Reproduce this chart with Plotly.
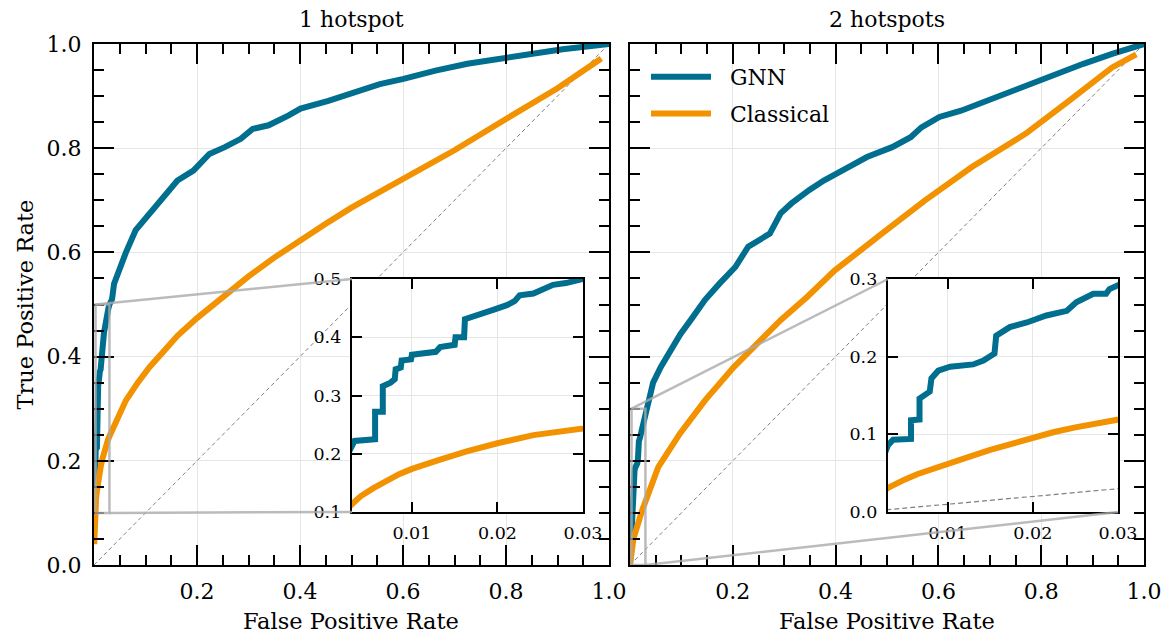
import plotly.graph_objects as go

# ---------------- data ----------------
# 1 hotspot
gnn1_fpr = [0.0, 0.0005, 0.0015, 0.003, 0.0033, 0.0057, 0.0057, 0.0066, 0.0066, 0.0075,
            0.0080, 0.0081, 0.0087, 0.0088, 0.0099, 0.0100, 0.0115, 0.0128, 0.0133, 0.0150,
            0.0151, 0.0161, 0.0162, 0.0179, 0.0195, 0.0211, 0.0220, 0.0226, 0.0242, 0.0265,
            0.0280, 0.0300, 0.035, 0.039, 0.050, 0.062, 0.081, 0.108, 0.131, 0.162,
            0.193, 0.224, 0.254, 0.285, 0.308, 0.339, 0.378, 0.401, 0.455, 0.509,
            0.555, 0.601, 0.663, 0.725, 0.786, 0.840, 0.910, 1.0]
gnn1_tpr = [0.06, 0.12, 0.17, 0.215, 0.222, 0.225, 0.272, 0.272, 0.316, 0.322,
            0.328, 0.345, 0.348, 0.360, 0.362, 0.370, 0.372, 0.375, 0.383, 0.387,
            0.400, 0.400, 0.431, 0.438, 0.447, 0.455, 0.462, 0.472, 0.475, 0.490,
            0.493, 0.500, 0.51, 0.54, 0.573, 0.600, 0.643, 0.675, 0.700, 0.738,
            0.757, 0.789, 0.802, 0.818, 0.837, 0.844, 0.863, 0.876, 0.891, 0.907,
            0.923, 0.933, 0.949, 0.962, 0.971, 0.981, 0.990, 1.0]
cls1_fpr = [0.0005, 0.001, 0.002, 0.003, 0.004, 0.0055, 0.0071, 0.0085, 0.010, 0.0115,
            0.0133, 0.0164, 0.018, 0.020, 0.0242, 0.027, 0.030, 0.045, 0.062, 0.085,
            0.108, 0.135, 0.162, 0.200, 0.258, 0.300, 0.350, 0.400, 0.450, 0.500,
            0.550, 0.600, 0.650, 0.700, 0.800, 0.900, 0.985]
cls1_tpr = [0.04, 0.07, 0.10, 0.115, 0.127, 0.141, 0.155, 0.165, 0.174, 0.182,
            0.190, 0.204, 0.211, 0.218, 0.232, 0.240, 0.247, 0.28, 0.316, 0.35,
            0.38, 0.41, 0.440, 0.474, 0.522, 0.554, 0.590, 0.624, 0.655, 0.686,
            0.713, 0.740, 0.768, 0.796, 0.856, 0.915, 0.972]

# 2 hotspots
gnn2_fpr = [0.0, 0.001, 0.002, 0.003, 0.0036, 0.0057, 0.0057, 0.0067, 0.0067, 0.0079,
            0.0081, 0.0089, 0.0103, 0.0130, 0.0142, 0.0155, 0.0157, 0.0173, 0.0193, 0.0216,
            0.0240, 0.0251, 0.0271, 0.0286, 0.0290, 0.0300, 0.045, 0.060, 0.078, 0.098,
            0.118, 0.146, 0.174, 0.205, 0.230, 0.272, 0.293, 0.314, 0.349, 0.377,
            0.426, 0.461, 0.510, 0.546, 0.567, 0.602, 0.644, 0.686, 0.728, 0.770,
            0.826, 0.882, 0.938, 1.0]
gnn2_tpr = [0.0, 0.03, 0.06, 0.086, 0.093, 0.094, 0.118, 0.119, 0.146, 0.155,
            0.172, 0.182, 0.187, 0.190, 0.195, 0.204, 0.227, 0.238, 0.244, 0.253,
            0.259, 0.270, 0.281, 0.281, 0.287, 0.292, 0.350, 0.380, 0.410, 0.443,
            0.470, 0.509, 0.540, 0.572, 0.611, 0.636, 0.675, 0.694, 0.720, 0.738,
            0.764, 0.783, 0.802, 0.821, 0.840, 0.860, 0.872, 0.888, 0.904, 0.920,
            0.943, 0.962, 0.981, 1.0]
cls2_fpr = [0.0, 0.001, 0.002, 0.003, 0.004, 0.005, 0.0065, 0.008, 0.010, 0.0125,
            0.015, 0.0175, 0.020, 0.0225, 0.025, 0.0275, 0.030, 0.055, 0.097, 0.146,
            0.202, 0.265, 0.293, 0.345, 0.398, 0.490, 0.574, 0.665, 0.770, 0.854,
            0.938, 0.985]
cls2_tpr = [0.0, 0.012, 0.023, 0.031, 0.037, 0.042, 0.049, 0.055, 0.0625, 0.071,
            0.080, 0.088, 0.096, 0.103, 0.109, 0.115, 0.121, 0.188, 0.252, 0.316,
            0.380, 0.443, 0.470, 0.515, 0.565, 0.636, 0.700, 0.764, 0.828, 0.891,
            0.955, 0.980]

diag = [0.0, 1.0]
panel_titles = ["1 hotspot", "2 hotspots"]
series_names = ["GNN", "Classical"]
main_ticks = [0.0, 0.2, 0.4, 0.6, 0.8, 1.0]
inset_xrange = [0.003, 0.03]
inset_xticks = [0.01, 0.02, 0.03]
inset1_yrange = [0.1, 0.5]
inset1_yticks = [0.1, 0.2, 0.3, 0.4, 0.5]
inset2_yrange = [0.0, 0.3]
inset2_yticks = [0.0, 0.1, 0.2, 0.3]

# ---------------- style ----------------
W, H = 1166, 633
FONT = "DejaVu Serif"
BLUE = "#006e8f"
ORANGE = "#f29200"
GRAY = "rgba(170,170,170,0.8)"
NBSP = "\u00a0"


def xdom(a, b):
    return [a / W, b / W]


def ydom(top, bottom):
    return [1 - bottom / H, 1 - top / H]


main1_x = xdom(94, 609)
main2_x = xdom(630, 1144)
main_y = ydom(44, 565)
ins1_x = xdom(352, 583)
ins2_x = xdom(888, 1118)
ins_y = ydom(279, 512)

fig = go.Figure()


def add_line(x, y, xa, ya, color, width=6, dash=None, name=None, show=False, group=None):
    fig.add_trace(go.Scatter(
        x=x, y=y, mode="lines", name=name, showlegend=show, legendgroup=group,
        line=dict(color=color, width=width, dash=dash),
        xaxis=xa, yaxis=ya, hoverinfo="skip"))


# main panels
add_line(diag, diag, "x", "y", "#7f7f7f", width=1, dash="4px,3px")
add_line(gnn1_fpr, gnn1_tpr, "x", "y", BLUE)
add_line(cls1_fpr, cls1_tpr, "x", "y", ORANGE)
add_line(diag, diag, "x2", "y2", "#7f7f7f", width=1, dash="4px,3px")
add_line(gnn2_fpr, gnn2_tpr, "x2", "y2", BLUE,
         name=NBSP * 2 + series_names[0], show=True, group="g")
add_line(cls2_fpr, cls2_tpr, "x2", "y2", ORANGE,
         name=NBSP * 2 + series_names[1], show=True, group="c")
# insets
add_line(diag, diag, "x3", "y3", "#7f7f7f", width=1.2, dash="5px,3px")
add_line(gnn1_fpr, gnn1_tpr, "x3", "y3", BLUE)
add_line(cls1_fpr, cls1_tpr, "x3", "y3", ORANGE)
add_line(diag, diag, "x4", "y4", "#7f7f7f", width=1.2, dash="5px,3px")
add_line(gnn2_fpr, gnn2_tpr, "x4", "y4", BLUE)
add_line(cls2_fpr, cls2_tpr, "x4", "y4", ORANGE)


def axis(dom, rng, tickvals, ticktext, anchor, showlabels=True, inset=False, is_x=True):
    if inset:
        standoff = 4 if is_x else 5
    else:
        standoff = 5 if is_x else 6
    d = dict(
        domain=dom, range=rng, anchor=anchor, autorange=False, automargin=False,
        tickmode="array", tickvals=tickvals, ticktext=ticktext,
        showticklabels=showlabels,
        ticks="inside", ticklen=10 if inset else 20, tickwidth=2.2, tickcolor="black",
        showline=True, linewidth=2.4, linecolor="black", mirror="allticks",
        showgrid=True, gridcolor="#e6e6e6", gridwidth=1, zeroline=False,
        tickfont=dict(size=17.5 if inset else 22, family=FONT, color="black"),
        ticklabelstandoff=standoff, fixedrange=True,
    )
    if not inset:
        d["minor"] = dict(ticks="inside", ticklen=10, tickwidth=2, tickcolor="black",
                          tickmode="linear", tick0=0, dtick=0.05, showgrid=False)
    return d


def fmt(v, nd):
    return f"{v:.{nd}f}"


xt_main = ["" if v == 0 else fmt(v, 1) for v in main_ticks]
yt_main = [fmt(v, 1) for v in main_ticks]

fig.update_layout(
    width=W, height=H, margin=dict(l=0, r=0, t=0, b=0, pad=0, autoexpand=False),
    paper_bgcolor="white", plot_bgcolor="white",
    font=dict(family=FONT, size=22, color="black"),
    xaxis=axis(main1_x, [0, 1], main_ticks, xt_main, "y"),
    yaxis=axis(main_y, [0, 1], main_ticks, yt_main, "x", is_x=False),
    xaxis2=axis(main2_x, [0, 1], main_ticks, xt_main, "y2"),
    yaxis2=axis(main_y, [0, 1], main_ticks, yt_main, "x2", showlabels=False, is_x=False),
    xaxis3=axis(ins1_x, inset_xrange, inset_xticks, [fmt(v, 2) for v in inset_xticks], "y3", inset=True),
    yaxis3=axis(ins_y, inset1_yrange, inset1_yticks, [fmt(v, 1) for v in inset1_yticks], "x3",
                inset=True, is_x=False),
    xaxis4=axis(ins2_x, inset_xrange, inset_xticks, [fmt(v, 2) for v in inset_xticks], "y4", inset=True),
    yaxis4=axis(ins_y, inset2_yrange, inset2_yticks, [fmt(v, 1) for v in inset2_yticks], "x4",
                inset=True, is_x=False),
    legend=dict(x=646 / W, y=1 - 56 / H, xanchor="left", yanchor="top",
                bgcolor="rgba(0,0,0,0)", borderwidth=0, itemwidth=60,
                tracegroupgap=5, font=dict(size=22, family=FONT, color="black")),
    showlegend=True,
)


# zoom indicators: rectangle + connectors, in main-axes data coordinates
def paper_to_data(p, dom, rng):
    return rng[0] + (p - dom[0]) / (dom[1] - dom[0]) * (rng[1] - rng[0])


shapes = []
for (xr, yr, mx, ix, side, yrng) in [
    ("x", "y", main1_x, ins1_x, "left", inset1_yrange),
    ("x2", "y2", main2_x, ins2_x, "right", inset2_yrange),
]:
    x0, x1 = inset_xrange
    y0, y1 = yrng
    shapes.append(dict(type="rect", xref=xr, yref=yr, x0=x0, x1=x1, y0=y0, y1=y1,
                       line=dict(color=GRAY, width=2.5), layer="above"))
    ix0 = paper_to_data(ix[0], mx, [0, 1])
    ix1 = paper_to_data(ix[1], mx, [0, 1])
    iy0 = paper_to_data(ins_y[0], main_y, [0, 1])
    iy1 = paper_to_data(ins_y[1], main_y, [0, 1])
    if side == "left":
        conns = [((x0, y1), (ix0, iy1)), ((x1, y0), (ix0, iy0))]
    else:
        conns = [((x0, y1), (ix0, iy1)), ((x1, y0), (ix1, iy0))]
    for (a, b) in conns:
        shapes.append(dict(type="line", xref=xr, yref=yr, x0=a[0], y0=a[1], x1=b[0], y1=b[1],
                           line=dict(color=GRAY, width=2.5), layer="above"))
fig.update_layout(shapes=shapes)

# titles and axis labels
ann = []
for title, dom in zip(panel_titles, [main1_x, main2_x]):
    cx = (dom[0] + dom[1]) / 2
    ann.append(dict(text=title, x=cx, y=1 - 20 / H, xref="paper", yref="paper",
                    showarrow=False, xanchor="center", yanchor="middle",
                    font=dict(size=22, family=FONT, color="black")))
    ann.append(dict(text="False Positive Rate", x=cx, y=1 - 621 / H, xref="paper", yref="paper",
                    showarrow=False, xanchor="center", yanchor="middle",
                    font=dict(size=22.5, family=FONT, color="black")))
ann.append(dict(text="True Positive Rate", x=24 / W, y=(main_y[0] + main_y[1]) / 2,
                xref="paper", yref="paper", showarrow=False, textangle=-90,
                xanchor="center", yanchor="middle",
                font=dict(size=22.5, family=FONT, color="black")))
fig.update_layout(annotations=ann)

fig.write_html("out.html")
